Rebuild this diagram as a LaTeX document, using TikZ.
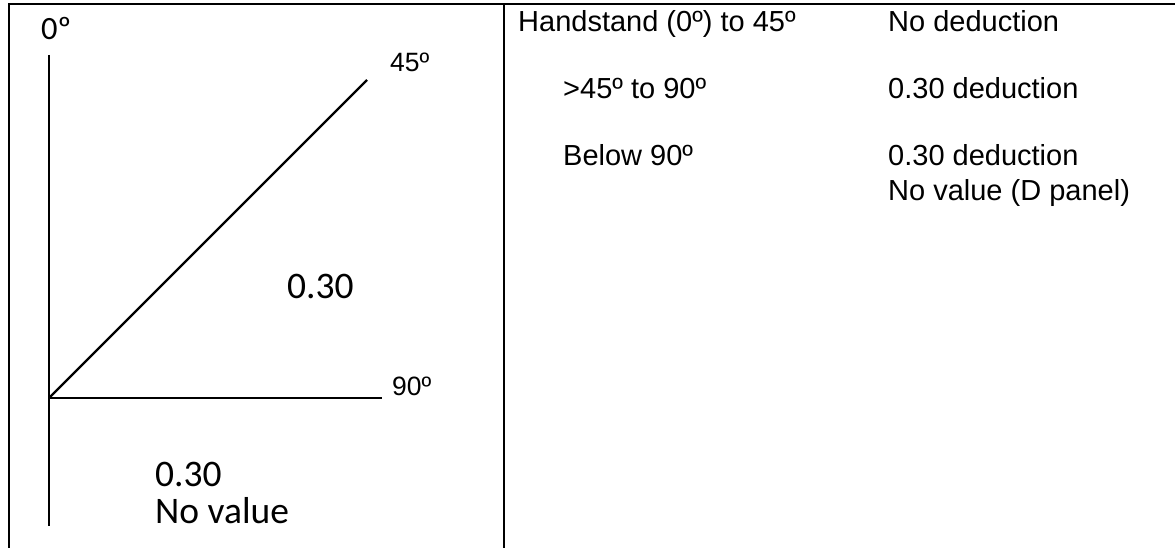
\documentclass[tikz,border=0pt]{standalone}
\usepackage{fontspec}
\newfontfamily\arialf{Liberation Sans}
\newfontfamily\calibrif{Carlito}
\begin{document}
\begin{tikzpicture}[x=1pt,y=-1pt,
  rule/.style={line width=2.6pt,black},
  axis/.style={line width=2.2pt,black},
  rtext/.style={inner sep=0pt,anchor=base west,font=\arialf\fontsize{29}{35}\selectfont},
  atext/.style={inner sep=0pt,anchor=base west,font=\arialf\fontsize{26.5}{31}\selectfont},
  ctext/.style={inner sep=0pt,anchor=base west,font=\calibrif\fontsize{37.5}{44}\selectfont},
  ctop/.style={inner sep=0pt,anchor=base west,font=\calibrif\fontsize{32.5}{38}\selectfont}]
\useasboundingbox (0,0) rectangle (1175,548);
% table borders
\coordinate (tl) at (9,4);
\coordinate (tr) at (1175,4);
\coordinate (bl) at (9,548);
\coordinate (mt) at (504,4);
\coordinate (mb) at (504,548);
\draw[rule] (bl) -- (tl) -- (tr);
\draw[rule] (mt) -- (mb);
% axes
\coordinate (o) at (49,398);
\coordinate (up) at (49,55);
\coordinate (down) at (49,526);
\coordinate (rt) at (382,398);
\coordinate (dg) at (367,80);
\draw[axis] (up) -- (down);
\draw[axis] (o) -- (rt);
\draw[axis] (o) -- (dg);
% left labels
\node[ctop] (l0) at (41,40) {0º};
\node[atext] (l45) at (390,72) {45º};
\node[atext] (l90) at (392,395) {90º};
\node[ctext] (v1) at (287,298) {0.30};
\node[ctext] (v2) at (155,486) {0.30};
\node[ctext] (v3) at (155,523) {No value};
% right texts
\node[rtext] (r1) at (518,32) {Handstand (0º) to 45º};
\node[rtext] (r2) at (888,32) {No deduction};
\node[rtext] (r3) at (563,99) {>45º to 90º};
\node[rtext] (r4) at (888,99) {0.30 deduction};
\node[rtext] (r5) at (563,166) {Below 90º};
\node[rtext] (r6) at (888,166) {0.30 deduction};
\node[rtext] (r7) at (888,201) {No value (D panel)};
\end{tikzpicture}
\end{document}
